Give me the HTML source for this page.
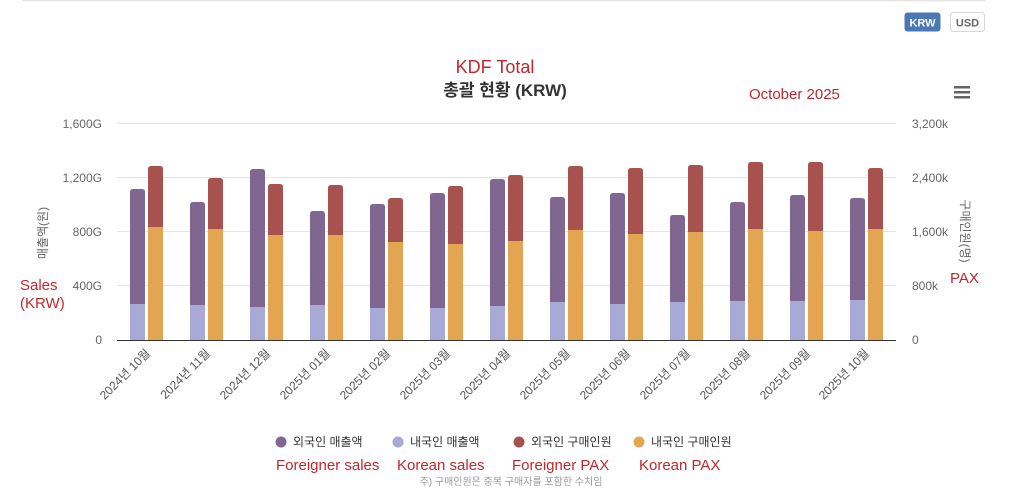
<!DOCTYPE html>
<html><head><meta charset="utf-8"><style>
html,body{margin:0;padding:0;background:#fff;}
svg{display:block;font-family:"Liberation Sans","Noto Sans CJK KR",sans-serif;}
</style></head><body>
<svg width="1022" height="493" viewBox="0 0 1022 493" xmlns="http://www.w3.org/2000/svg">
<line x1="22" y1="0.5" x2="986" y2="0.5" stroke="#e3e3e3" stroke-width="1.5"/>
<rect x="904.5" y="12.5" width="36" height="19" rx="3" fill="#4a78b4"/>
<text x="922.5" y="26.5" font-size="11" font-weight="bold" fill="#fff" text-anchor="middle">KRW</text>
<rect x="950.5" y="12.5" width="34" height="19" rx="3" fill="#fff" stroke="#d6d6d6"/>
<text x="967.5" y="26.5" font-size="11" font-weight="bold" fill="#666" text-anchor="middle">USD</text>
<text x="495" y="73" font-size="18" fill="#c0272d" text-anchor="middle">KDF Total</text>
<text x="505" y="96" font-size="17" font-weight="bold" fill="#333" text-anchor="middle">총괄 현황 (KRW)</text>
<text x="749" y="99" font-size="15" fill="#c0272d">October 2025</text>
<rect x="954" y="86" width="16" height="2.5" fill="#666"/>
<rect x="954" y="91" width="16" height="2.5" fill="#666"/>
<rect x="954" y="96" width="16" height="2.5" fill="#666"/>
<g stroke="#e6e6e6" stroke-width="1">
<line x1="117" y1="123.5" x2="896" y2="123.5"/>
<line x1="117" y1="177.5" x2="896" y2="177.5"/>
<line x1="117" y1="231.5" x2="896" y2="231.5"/>
<line x1="117" y1="285.5" x2="896" y2="285.5"/>
</g>
<g font-size="12" fill="#666" text-anchor="end">
<text x="102" y="128">1,600G</text>
<text x="102" y="182">1,200G</text>
<text x="102" y="236">800G</text>
<text x="102" y="290">400G</text>
<text x="102" y="344">0</text>
</g>
<g font-size="12" fill="#666" text-anchor="start">
<text x="912" y="128">3,200k</text>
<text x="912" y="182">2,400k</text>
<text x="912" y="236">1,600k</text>
<text x="912" y="290">800k</text>
<text x="912" y="344">0</text>
</g>
<text transform="translate(47,233) rotate(-90)" font-size="12" fill="#666" text-anchor="middle">매출액(원)</text>
<text transform="translate(961,231) rotate(90)" font-size="12" fill="#666" text-anchor="middle">구매인원(명)</text>
<text x="20" y="290" font-size="15" fill="#c0272d">Sales</text>
<text x="20" y="308" font-size="15" fill="#c0272d">(KRW)</text>
<text x="950" y="283" font-size="15" fill="#c0272d">PAX</text>
<g id="bars"></g>
<line x1="117" y1="340.5" x2="896" y2="340.5" stroke="#333" stroke-width="1"/>
<g id="xl" font-size="12" fill="#555" text-anchor="end"></g>
<circle cx="281" cy="442" r="5.5" fill="#806792"/>
<text x="293" y="446" font-size="12" fill="#333">외국인 매출액</text>
<circle cx="398" cy="442" r="5.5" fill="#a9a9d5"/>
<text x="410" y="446" font-size="12" fill="#333">내국인 매출액</text>
<circle cx="519" cy="442" r="5.5" fill="#a85250"/>
<text x="531" y="446" font-size="12" fill="#333">외국인 구매인원</text>
<circle cx="639" cy="442" r="5.5" fill="#e4a552"/>
<text x="651" y="446" font-size="12" fill="#333">내국인 구매인원</text>
<g font-size="15" fill="#c0272d">
<text x="276" y="470">Foreigner sales</text>
<text x="397" y="470">Korean sales</text>
<text x="512" y="470">Foreigner PAX</text>
<text x="639" y="470">Korean PAX</text>
</g>
<text x="511" y="485" font-size="10" fill="#999" text-anchor="middle">주) 구매인원은 중복 구매자를 포함한 수치임</text>
<g>
<path d="M130,340 V192 Q130,189 133,189 H142 Q145,189 145,192 V340 Z" fill="#806792"/><rect x="130" y="304" width="15" height="36" fill="#a9a9d5"/>
<path d="M148,340 V169 Q148,166 151,166 H160 Q163,166 163,169 V340 Z" fill="#a85250"/><rect x="148" y="227" width="15" height="113" fill="#e4a552"/>

<path d="M190,340 V205 Q190,202 193,202 H202 Q205,202 205,205 V340 Z" fill="#806792"/><rect x="190" y="305" width="15" height="35" fill="#a9a9d5"/>
<path d="M208,340 V181 Q208,178 211,178 H220 Q223,178 223,181 V340 Z" fill="#a85250"/><rect x="208" y="229" width="15" height="111" fill="#e4a552"/>

<path d="M250,340 V172 Q250,169 253,169 H262 Q265,169 265,172 V340 Z" fill="#806792"/><rect x="250" y="307" width="15" height="33" fill="#a9a9d5"/>
<path d="M268,340 V187 Q268,184 271,184 H280 Q283,184 283,187 V340 Z" fill="#a85250"/><rect x="268" y="235" width="15" height="105" fill="#e4a552"/>

<path d="M310,340 V214 Q310,211 313,211 H322 Q325,211 325,214 V340 Z" fill="#806792"/><rect x="310" y="305" width="15" height="35" fill="#a9a9d5"/>
<path d="M328,340 V188 Q328,185 331,185 H340 Q343,185 343,188 V340 Z" fill="#a85250"/><rect x="328" y="235" width="15" height="105" fill="#e4a552"/>

<path d="M370,340 V207 Q370,204 373,204 H382 Q385,204 385,207 V340 Z" fill="#806792"/><rect x="370" y="308" width="15" height="32" fill="#a9a9d5"/>
<path d="M388,340 V201 Q388,198 391,198 H400 Q403,198 403,201 V340 Z" fill="#a85250"/><rect x="388" y="242" width="15" height="98" fill="#e4a552"/>

<path d="M430,340 V196 Q430,193 433,193 H442 Q445,193 445,196 V340 Z" fill="#806792"/><rect x="430" y="308" width="15" height="32" fill="#a9a9d5"/>
<path d="M448,340 V189 Q448,186 451,186 H460 Q463,186 463,189 V340 Z" fill="#a85250"/><rect x="448" y="244" width="15" height="96" fill="#e4a552"/>

<path d="M490,340 V182 Q490,179 493,179 H502 Q505,179 505,182 V340 Z" fill="#806792"/><rect x="490" y="306" width="15" height="34" fill="#a9a9d5"/>
<path d="M508,340 V178 Q508,175 511,175 H520 Q523,175 523,178 V340 Z" fill="#a85250"/><rect x="508" y="241" width="15" height="99" fill="#e4a552"/>

<path d="M550,340 V200 Q550,197 553,197 H562 Q565,197 565,200 V340 Z" fill="#806792"/><rect x="550" y="302" width="15" height="38" fill="#a9a9d5"/>
<path d="M568,340 V169 Q568,166 571,166 H580 Q583,166 583,169 V340 Z" fill="#a85250"/><rect x="568" y="230" width="15" height="110" fill="#e4a552"/>

<path d="M610,340 V196 Q610,193 613,193 H622 Q625,193 625,196 V340 Z" fill="#806792"/><rect x="610" y="304" width="15" height="36" fill="#a9a9d5"/>
<path d="M628,340 V171 Q628,168 631,168 H640 Q643,168 643,171 V340 Z" fill="#a85250"/><rect x="628" y="234" width="15" height="106" fill="#e4a552"/>

<path d="M670,340 V218 Q670,215 673,215 H682 Q685,215 685,218 V340 Z" fill="#806792"/><rect x="670" y="302" width="15" height="38" fill="#a9a9d5"/>
<path d="M688,340 V168 Q688,165 691,165 H700 Q703,165 703,168 V340 Z" fill="#a85250"/><rect x="688" y="232" width="15" height="108" fill="#e4a552"/>

<path d="M730,340 V205 Q730,202 733,202 H742 Q745,202 745,205 V340 Z" fill="#806792"/><rect x="730" y="301" width="15" height="39" fill="#a9a9d5"/>
<path d="M748,340 V165 Q748,162 751,162 H760 Q763,162 763,165 V340 Z" fill="#a85250"/><rect x="748" y="229" width="15" height="111" fill="#e4a552"/>

<path d="M790,340 V198 Q790,195 793,195 H802 Q805,195 805,198 V340 Z" fill="#806792"/><rect x="790" y="301" width="15" height="39" fill="#a9a9d5"/>
<path d="M808,340 V165 Q808,162 811,162 H820 Q823,162 823,165 V340 Z" fill="#a85250"/><rect x="808" y="231" width="15" height="109" fill="#e4a552"/>

<path d="M850,340 V201 Q850,198 853,198 H862 Q865,198 865,201 V340 Z" fill="#806792"/><rect x="850" y="300" width="15" height="40" fill="#a9a9d5"/>
<path d="M868,340 V171 Q868,168 871,168 H880 Q883,168 883,171 V340 Z" fill="#a85250"/><rect x="868" y="229" width="15" height="111" fill="#e4a552"/>
</g>
<g font-size="12" fill="#555" text-anchor="end">
<text transform="translate(151,354) rotate(-45)">2024년 10월</text>
<text transform="translate(211,354) rotate(-45)">2024년 11월</text>
<text transform="translate(271,354) rotate(-45)">2024년 12월</text>
<text transform="translate(331,354) rotate(-45)">2025년 01월</text>
<text transform="translate(391,354) rotate(-45)">2025년 02월</text>
<text transform="translate(451,354) rotate(-45)">2025년 03월</text>
<text transform="translate(511,354) rotate(-45)">2025년 04월</text>
<text transform="translate(571,354) rotate(-45)">2025년 05월</text>
<text transform="translate(631,354) rotate(-45)">2025년 06월</text>
<text transform="translate(691,354) rotate(-45)">2025년 07월</text>
<text transform="translate(751,354) rotate(-45)">2025년 08월</text>
<text transform="translate(811,354) rotate(-45)">2025년 09월</text>
<text transform="translate(870,354) rotate(-45)">2025년 10월</text>
</g>
</svg>
</body></html>
